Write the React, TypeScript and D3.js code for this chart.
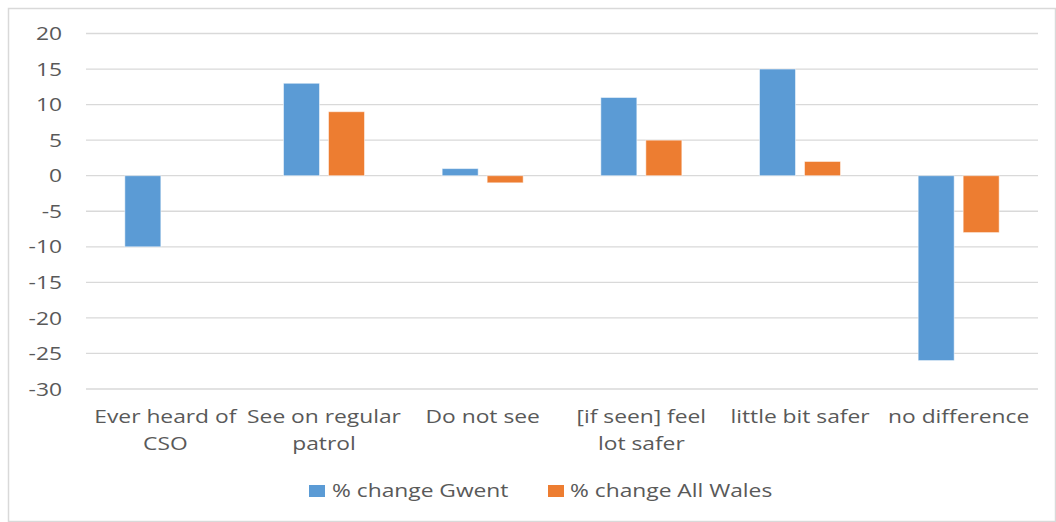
import React from "react";
import * as d3 from "d3";

const categories = [
  ["Ever heard of", "CSO"],
  ["See on regular", "patrol"],
  ["Do not see"],
  ["[if seen] feel", "lot safer"],
  ["little bit safer"],
  ["no difference"],
];
const seriesNames = ["% change Gwent", "% change All Wales"];
const gwent = [-10, 13, 1, 11, 15, -26];
const allWales = [0, 9, -1, 5, 2, -8];
const yTicks = [20, 15, 10, 5, 0, -5, -10, -15, -20, -25, -30];
const colors = ["#5B9BD5", "#ED7D31"];

const W = 1056;
const H = 522;
const plot = { left: 86, right: 1038, top: 33.5, bottom: 389 };
const FONT = "'Open Sans', sans-serif";
const TEXT = "#595959";
const SX = 1.2;

function Txt({ x, y, anchor = "start", children, dy = "0" }: any) {
  return (
    <text
      transform={`translate(${x},${y}) scale(${SX},1)`}
      textAnchor={anchor}
      dy={dy}
      fontSize={19}
      fill={TEXT}
    >
      {children}
    </text>
  );
}

export default function App() {
  const keys = categories.map((c, i) => String(i));
  const x0 = d3.scaleBand().domain(keys).range([plot.left, plot.right]).paddingInner(0).paddingOuter(0);
  const groupW = 81;
  const x1 = d3.scaleBand().domain(seriesNames).range([0, groupW]).paddingInner(0.2);
  const y = d3.scaleLinear().domain([-30, 20]).range([plot.bottom, plot.top]);
  const data = [gwent, allWales];
  const off = (x0.bandwidth() - groupW) / 2;

  return (
    <svg width={W} height={H} style={{ position: "absolute", left: 0, top: 0 }} fontFamily={FONT}>
      <rect x={0} y={0} width={W} height={H} fill="#fff" />
      <rect x={8.5} y={8.5} width={W - 9} height={H - 9} fill="#fff" stroke="#d9d9d9" strokeWidth={1.5} />
      {yTicks.map((t) => (
        <g key={t}>
          <line x1={plot.left} x2={plot.right} y1={y(t)} y2={y(t)} stroke="#d9d9d9" strokeWidth={1.3} />
          <Txt x={62} y={y(t)} anchor="end" dy="0.35em">
            {t}
          </Txt>
        </g>
      ))}
      {data.map((vals, si) =>
        vals.map((v, ci) => {
          if (v === 0) return null;
          const bx = (x0(keys[ci]) as number) + off + (x1(seriesNames[si]) as number);
          const top = y(Math.max(0, v));
          const h = Math.abs(y(v) - y(0));
          return (
            <rect
              key={`${si}-${ci}`}
              x={bx}
              y={top}
              width={x1.bandwidth()}
              height={h}
              fill={colors[si]}
              stroke="#fff"
              strokeOpacity={0.5}
              strokeWidth={1}
            />
          );
        })
      )}
      {categories.map((lines, ci) => {
        const cx = (x0(keys[ci]) as number) + x0.bandwidth() / 2;
        return (
          <g key={ci}>
            {lines.map((l, li) => (
              <Txt key={li} x={cx} y={423 + li * 26.5} anchor="middle">
                {l}
              </Txt>
            ))}
          </g>
        );
      })}
      <g>
        <rect x={309} y={485} width={16} height={12} fill={colors[0]} />
        <Txt x={332} y={497}>
          {seriesNames[0]}
        </Txt>
        <rect x={548} y={485} width={16} height={12} fill={colors[1]} />
        <Txt x={570} y={497}>
          {seriesNames[1]}
        </Txt>
      </g>
    </svg>
  );
}
